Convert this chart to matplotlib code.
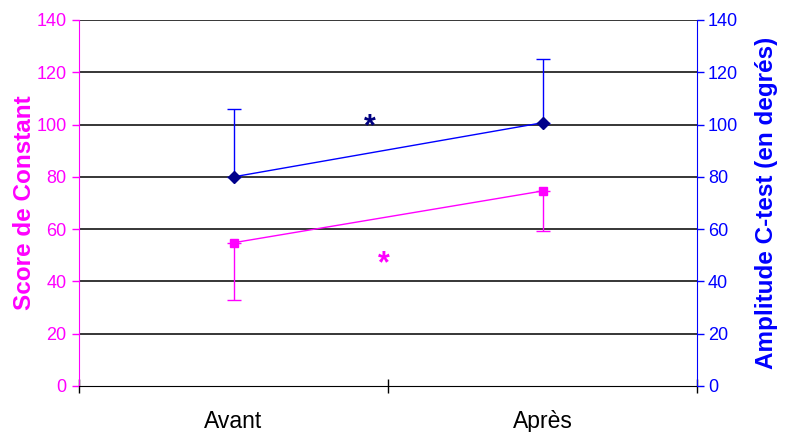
import matplotlib.pyplot as plt

plt.rcParams['font.family'] = ['Liberation Sans', 'DejaVu Sans']

categories = ['Avant', 'Après']
constant = [54.8, 74.6]
constant_err_low = [22.0, 15.2]
ctest = [80.0, 100.7]
ctest_err_high = [26.0, 24.3]

pink = '#ff00ff'
blue = '#0000ff'

fig = plt.figure(figsize=(7.87, 4.32), dpi=100)
ax = fig.add_axes([79 / 787, 1 - 386 / 432, 618 / 787, 366 / 432])
ax2 = ax.twinx()

x = [0.5, 1.5]

# Gridlines
for v in range(20, 141, 20):
    ax.axhline(v, color='black', lw=1.1, zorder=1)

ax.errorbar(x, constant, yerr=[constant_err_low, [0, 0]], color=pink,
            marker='s', ms=6, lw=1.0, elinewidth=1.0, capsize=5, capthick=1.0,
            zorder=3)
ax2.errorbar(x, ctest, yerr=[[0, 0], ctest_err_high], color=blue,
             marker='D', ms=6, mfc='#00008b', mec='#00008b', lw=1.0,
             elinewidth=1.0, capsize=5, capthick=1.0, zorder=3)

# significance marks
ax.text(0.94, 99.0, '*', color='#000080', fontsize=22, fontweight='bold',
        ha='center', va='center')
ax.text(0.985, 46.5, '*', color=pink, fontsize=22, fontweight='bold',
        ha='center', va='center')

for a in (ax, ax2):
    a.set_ylim(0, 140)
    a.set_xlim(0, 2)
    a.set_yticks(range(0, 141, 20))
    a.spines['top'].set_visible(False)

ax.spines['left'].set_color(pink)
ax.spines['right'].set_visible(False)
ax2.spines['left'].set_visible(False)
ax2.spines['right'].set_color(blue)
ax2.spines['bottom'].set_visible(False)

ax.tick_params(axis='y', colors=pink, labelsize=13, length=5, width=1, pad=4)
ax2.tick_params(axis='y', colors=blue, labelsize=13, length=5, width=1, pad=3)

ax.set_xticks([0, 1, 2])
ax.set_xticklabels([])
ax.set_xticks(x, minor=True)
ax.set_xticklabels(categories, minor=True, fontsize=16.5)
ax.tick_params(axis='x', which='major', direction='inout', length=10, width=1)
ax.tick_params(axis='x', which='minor', length=0, pad=17)

ax.set_ylabel('Score de Constant', color=pink, fontsize=17.5,
              fontweight='bold', labelpad=0)
ax2.set_ylabel('Amplitude C-test (en degrés)', color=blue, fontsize=17.5,
               fontweight='bold', labelpad=12)

fig.savefig('out.png', dpi=100)
